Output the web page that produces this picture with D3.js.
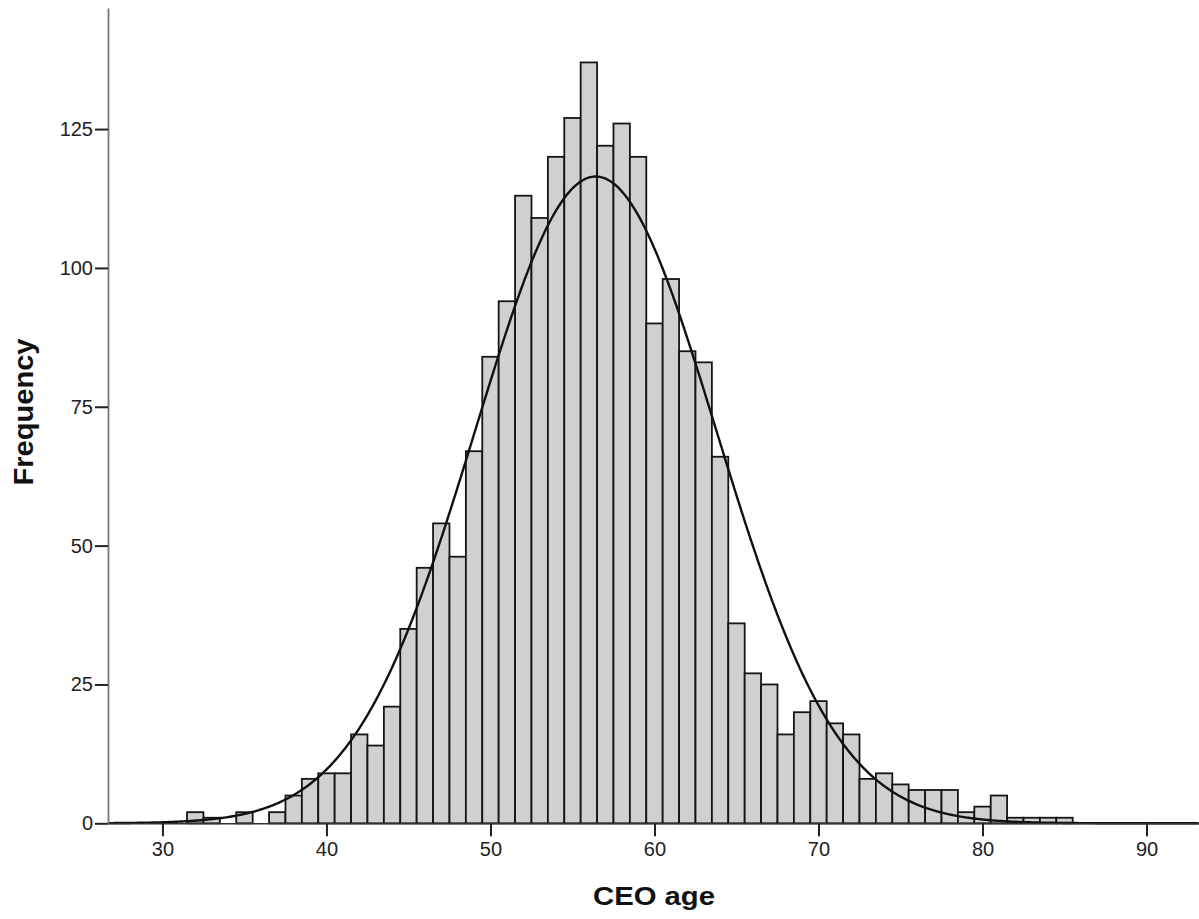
<!DOCTYPE html>
<html>
<head>
<meta charset="utf-8">
<script src="https://cdn.jsdelivr.net/npm/d3@7"></script>
<style>
    body { margin: 0; background: #fff; }
    svg { display: block; }
</style>
</head>
<body>
<div id="chartArea"></div>
<script>
// CEO age bins (1 year wide, centred on the integer age) and their counts
var ages = [32, 33, 34, 35, 36, 37, 38, 39, 40, 41, 42, 43, 44, 45, 46, 47, 48, 49,
            50, 51, 52, 53, 54, 55, 56, 57, 58, 59, 60, 61, 62, 63, 64, 65, 66, 67,
            68, 69, 70, 71, 72, 73, 74, 75, 76, 77, 78, 79, 80, 81, 82, 83, 84, 85];
var counts = [2, 1, 0, 2, 0, 2, 5, 8, 9, 9, 16, 14, 21, 35, 46, 54, 48, 67,
              84, 94, 113, 109, 120, 127, 137, 122, 126, 120, 90, 98, 85, 83, 66, 36, 27, 25,
              16, 20, 22, 18, 16, 8, 9, 7, 6, 6, 6, 2, 3, 5, 1, 1, 1, 1];
var xTicks = [30, 40, 50, 60, 70, 80, 90];
var yTicks = [0, 25, 50, 75, 100, 125];

var dataSet = ages.map(function (a, i) { return {age: a, number: counts[i]}; });

var width = 1199;
var height = 919;

var svg = d3.select("#chartArea")
    .append("svg")
    .attr("width", width)
    .attr("height", height);

var x = d3.scaleLinear()
    .domain([26.68, 93.2])
    .range([108, 1199]);

var y = d3.scaleLinear()
    .domain([0, 146.8])
    .range([823.3, 8]);

//bars
svg.append("g")
    .selectAll("rect")
    .data(dataSet.filter(function (d) { return d.number > 0; }))
    .enter()
    .append("rect")
    .attr("x", function (d) { return x(d.age - 0.5); })
    .attr("width", function (d) { return x(d.age + 0.5) - x(d.age - 0.5); })
    .attr("y", function (d) { return y(d.number); })
    .attr("height", function (d) { return y(0) - y(d.number); })
    .attr("fill", "#d0d0d0")
    .attr("stroke", "#151515")
    .attr("stroke-width", 1.8);

//normal curve fitted to the binned data
var n = d3.sum(counts);
var mean = d3.sum(dataSet, function (d) { return d.age * d.number; }) / n;
var sd = Math.sqrt(d3.sum(dataSet, function (d) {
    return d.number * (d.age - mean) * (d.age - mean);
}) / (n - 1));
var curvePoints = d3.range(x.domain()[0], x.domain()[1], 0.1).map(function (a) {
    return [a, n / (sd * Math.sqrt(2 * Math.PI)) * Math.exp(-0.5 * Math.pow((a - mean) / sd, 2))];
});
var line = d3.line()
    .x(function (d) { return x(d[0]); })
    .y(function (d) { return y(d[1]); })
    .curve(d3.curveBasis);
svg.append("path")
    .datum(curvePoints)
    .attr("d", line)
    .attr("fill", "none")
    .attr("stroke", "#111")
    .attr("stroke-width", 2.4);

//axes
var xAxis = d3.axisBottom(x)
    .tickValues(xTicks)
    .tickSize(13)
    .tickSizeOuter(0)
    .tickPadding(6);
var yAxis = d3.axisLeft(y)
    .tickValues(yTicks)
    .tickSize(13)
    .tickSizeOuter(0)
    .tickPadding(2);

var gx = svg.append("g")
    .attr("transform", "translate(0," + y(0) + ")")
    .call(xAxis);
var gy = svg.append("g")
    .attr("transform", "translate(" + x.range()[0] + ",0)")
    .call(yAxis);

gx.select(".domain").attr("stroke", "#333").attr("stroke-width", 1.6);
gy.select(".domain").attr("stroke", "#777").attr("stroke-width", 1.8);
svg.selectAll(".tick line").attr("stroke", "#222").attr("stroke-width", 2);
svg.selectAll(".tick text")
    .attr("fill", "#222")
    .style("font-family", "'Liberation Sans', Arial, sans-serif")
    .style("font-size", "20px");

//axis titles
svg.append("text")
    .attr("x", 654)
    .attr("y", 905)
    .attr("text-anchor", "middle")
    .attr("textLength", 122)
    .attr("lengthAdjust", "spacingAndGlyphs")
    .style("font-family", "'Liberation Sans', Arial, sans-serif")
    .style("font-weight", "bold")
    .style("font-size", "26px")
    .attr("fill", "#111")
    .text("CEO age");

svg.append("text")
    .attr("transform", "translate(33,412) rotate(-90)")
    .attr("text-anchor", "middle")
    .attr("textLength", 147)
    .attr("lengthAdjust", "spacingAndGlyphs")
    .style("font-family", "'Liberation Sans', Arial, sans-serif")
    .style("font-weight", "bold")
    .style("font-size", "27px")
    .attr("fill", "#111")
    .text("Frequency");
</script>
</body>
</html>
